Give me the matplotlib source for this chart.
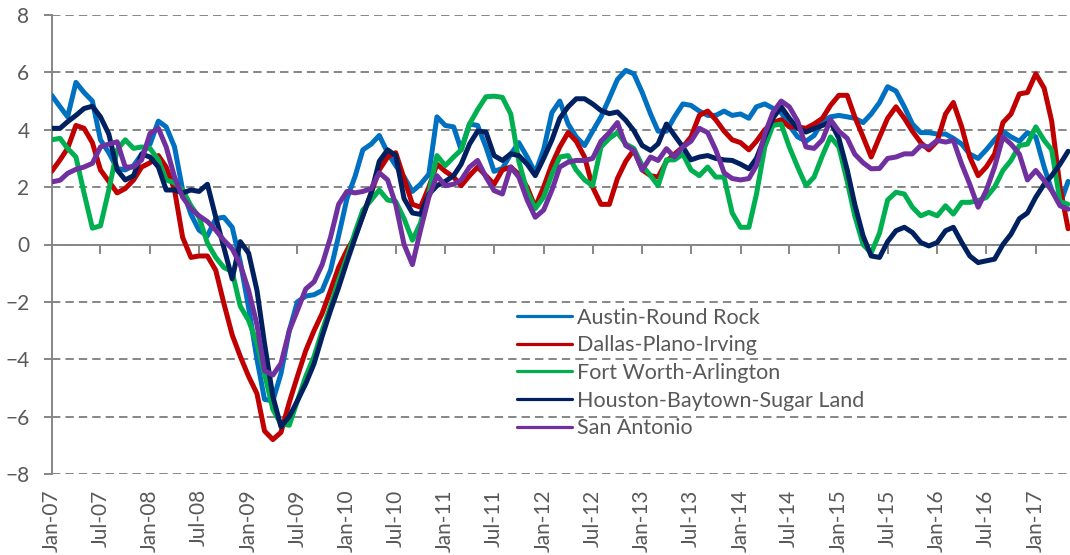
import numpy as np
import pandas as pd
import matplotlib
matplotlib.use("Agg")
from matplotlib import pyplot as plt
import matplotlib.dates as mdates

plt.rcParams['font.family'] = ['Lato', 'DejaVu Sans']

months = pd.date_range('2007-01-01', periods=125, freq='MS')

austin = [5.2, 4.8, 4.45, 5.65, 5.3, 5.0, 3.65, 3.2, 2.65, 2.6,
          2.75, 3.15, 3.5, 4.3, 4.1, 3.4, 1.9, 1.05, 0.5, 0.3,
          0.9, 0.95, 0.6, -0.6, -2.2, -4.0, -5.4, -5.45, -4.5, -3.0,
          -2.0, -1.8, -1.75, -1.6, -0.9, 0.3, 1.6, 2.4, 3.3, 3.5,
          3.8, 3.2, 2.75, 2.35, 1.85, 2.1, 2.45, 4.45, 4.15, 4.1,
          3.3, 4.2, 4.15, 3.4, 2.55, 2.65, 3.15, 3.55, 3.05, 2.5,
          3.3, 4.6, 5.0, 4.2, 3.75, 3.45, 3.95, 4.45, 5.1, 5.75,
          6.07, 5.95, 5.3, 4.55, 3.95, 3.95, 4.45, 4.9, 4.85, 4.65,
          4.5, 4.5, 4.65, 4.5, 4.55, 4.4, 4.8, 4.9, 4.75, 4.6,
          4.15, 3.75, 3.6, 3.8, 4.3, 4.45, 4.5, 4.45, 4.4, 4.25,
          4.55, 4.95, 5.5, 5.35, 4.8, 4.2, 3.9, 3.9, 3.85, 3.85,
          3.7, 3.5, 3.15, 3.0, 3.3, 3.65, 3.95, 3.75, 3.6, 3.9,
          3.75, 2.7, 1.9, 1.4, 2.2]

dallas = [2.55, 2.95, 3.35, 4.15, 4.05, 3.55, 2.6, 2.2, 1.8, 1.95,
          2.25, 2.7, 2.85, 3.1, 2.7, 1.9, 0.25, -0.45, -0.4, -0.4,
          -0.9, -2.05, -3.15, -3.9, -4.6, -5.2, -6.5, -6.8, -6.55, -5.5,
          -4.6, -3.7, -3.0, -2.4, -1.6, -0.8, -0.2, 0.3, 1.0, 1.8,
          2.6, 3.05, 3.2, 2.3, 1.4, 1.3, 2.0, 2.8, 2.55, 2.35,
          2.05, 2.4, 2.7, 2.4, 2.1, 2.6, 2.7, 2.45, 2.0, 1.3,
          2.0, 2.8, 3.4, 3.9, 3.6, 3.05, 2.0, 1.4, 1.4, 2.3,
          2.9, 3.3, 2.6, 2.4, 2.35, 2.9, 3.15, 3.4, 3.75, 4.5,
          4.65, 4.35, 3.95, 3.65, 3.55, 3.3, 3.6, 4.0, 4.25, 4.35,
          4.1, 4.1, 4.05, 4.2, 4.4, 4.85, 5.2, 5.2, 4.45, 3.75,
          3.05, 3.75, 4.4, 4.8, 4.4, 3.95, 3.55, 3.3, 3.6, 4.55,
          4.95, 4.1, 3.05, 2.4, 2.7, 3.15, 4.25, 4.55, 5.25, 5.3,
          5.95, 5.45, 4.3, 2.0, 0.55]

fort_worth = [3.65, 3.7, 3.35, 3.05, 1.8, 0.57, 0.65, 1.9, 3.3, 3.65,
              3.35, 3.4, 3.35, 2.95, 2.25, 2.15, 1.9, 1.35, 0.95, 0.05,
              -0.45, -0.8, -0.95, -2.15, -2.65, -3.45, -4.5, -5.75, -6.25, -6.3,
              -5.45, -4.6, -3.9, -3.0, -2.15, -1.25, -0.45, 0.45, 1.2, 1.55,
              1.9, 1.55, 1.5, 0.9, 0.15, 0.75, 1.8, 3.1, 2.75, 3.05,
              3.3, 4.2, 4.7, 5.15, 5.17, 5.13, 4.55, 2.9, 1.85, 1.25,
              1.65, 2.45, 3.05, 3.1, 2.6, 2.25, 2.05, 3.4, 3.7, 3.9,
              3.5, 3.35, 2.75, 2.4, 2.05, 2.95, 2.95, 3.15, 2.6, 2.4,
              2.7, 2.35, 2.35, 1.1, 0.6, 0.6, 1.75, 3.4, 4.15, 4.2,
              3.4, 2.7, 2.05, 2.35, 3.1, 3.75, 3.4, 2.2, 1.0, 0.0,
              -0.3, 0.4, 1.55, 1.82, 1.76, 1.3, 1.0, 1.12, 1.0, 1.35,
              1.06, 1.47, 1.47, 1.53, 1.64, 2.0, 2.58, 2.93, 3.45, 3.5,
              4.1, 3.63, 3.3, 1.5, 1.4]

houston = [4.05, 4.05, 4.28, 4.5, 4.74, 4.82, 4.45, 3.85, 2.6, 2.25,
           2.4, 3.15, 3.05, 2.7, 1.9, 1.9, 1.8, 1.9, 1.85, 2.1,
           0.95, -0.1, -1.2, 0.1, -0.3, -1.6, -3.45, -5.3, -6.35, -6.0,
           -5.45, -4.85, -4.15, -3.2, -2.3, -1.5, -0.6, 0.25, 1.0, 1.8,
           2.9, 3.3, 3.1, 1.6, 1.1, 1.05, 1.75, 2.05, 2.2, 2.4,
           2.8, 3.5, 3.95, 3.92, 3.1, 2.93, 3.16, 3.1, 2.8, 2.4,
           3.0, 3.65, 4.4, 4.8, 5.08, 5.08, 4.9, 4.67, 4.56, 4.62,
           4.33, 3.97, 3.45, 3.28, 3.51, 4.2, 3.8, 3.4, 2.95, 3.05,
           3.1, 3.0, 2.95, 2.93, 2.8, 2.64, 3.0, 3.75, 4.4, 4.8,
           4.4, 4.05, 3.92, 4.04, 4.15, 4.27, 3.7, 2.6, 1.4, 0.3,
           -0.4, -0.45, 0.1, 0.48, 0.6, 0.42, 0.07, -0.05, 0.07, 0.48,
           0.6, 0.07, -0.4, -0.63, -0.57, -0.51, 0.0, 0.36, 0.9, 1.1,
           1.65, 2.1, 2.4, 2.8, 3.25]

san_antonio = [2.18, 2.24, 2.48, 2.62, 2.7, 2.83, 3.4, 3.5, 3.58, 2.7,
               2.7, 2.95, 3.87, 4.05, 3.4, 2.35, 1.65, 1.25, 1.0, 0.8,
               0.5, 0.15, -0.15, -0.7, -1.6, -2.8, -4.4, -4.55, -4.15, -3.0,
               -2.3, -1.55, -1.3, -0.7, 0.25, 1.4, 1.85, 1.8, 1.85, 1.95,
               2.5, 2.25, 1.4, 0.0, -0.7, 0.5, 1.65, 2.4, 2.05, 2.1,
               2.25, 2.7, 2.93, 2.35, 1.88, 1.76, 2.7, 2.35, 1.55, 0.95,
               1.2, 1.9, 2.7, 2.87, 2.93, 2.93, 3.0, 3.6, 3.9, 4.25,
               3.45, 3.28, 2.6, 3.05, 2.93, 3.34, 3.05, 3.4, 3.6, 4.05,
               3.9, 3.3, 2.5, 2.3, 2.25, 2.3, 2.75, 3.85, 4.6, 5.0,
               4.8, 4.3, 3.4, 3.35, 3.65, 4.35, 3.95, 3.7, 3.15, 2.85,
               2.64, 2.65, 3.0, 3.05, 3.16, 3.16, 3.45, 3.4, 3.63, 3.57,
               3.63, 2.8, 2.1, 1.3, 1.88, 2.7, 3.75, 3.5, 3.15, 2.25,
               2.58, 2.23, 1.88, 1.35, 1.23]

names = ['Austin-Round Rock', 'Dallas-Plano-Irving', 'Fort Worth-Arlington',
         'Houston-Baytown-Sugar Land', 'San Antonio']
series = [austin, dallas, fort_worth, houston, san_antonio]
colors = ['#0070C0', '#C00000', '#00B050', '#002060', '#7030A0']

gray = '#868686'
txt = '#595959'

fig = plt.figure(figsize=(10.70, 5.55), dpi=100)
ax = fig.add_axes([51.7 / 1070, 81 / 555, 1 - 51.7 / 1070, 459 / 555])

for vals, name, c in zip(series, names, colors):
    ax.plot(months, vals, color=c, lw=3.6, label=name,
            solid_joinstyle='round', solid_capstyle='round', zorder=3)

ax.set_ylim(-8, 8)
ax.set_yticks(range(-8, 9, 2))
ax.set_xlim(months[0], months[0] + pd.Timedelta(days=int(124.18 * 30.44)))

ax.yaxis.grid(True, color=gray, lw=1.4, dashes=(4.3, 2.6))
ax.set_axisbelow(True)

for s in ['top', 'right']:
    ax.spines[s].set_visible(False)
ax.spines['bottom'].set_position(('data', 0))
for s in ['left', 'bottom']:
    ax.spines[s].set_color(gray)
    ax.spines[s].set_linewidth(1.4)
    ax.spines[s].set_zorder(2)

ticks = pd.date_range('2007-01-01', '2017-01-01', freq='6MS')
ax.set_xticks(ticks)
ax.tick_params(axis='x', direction='out', length=6.5, width=1.4, color=gray,
               labelbottom=False)
ax.tick_params(axis='y', direction='out', length=6, width=1.4, color=gray,
               labelsize=15, labelcolor=txt, pad=10)

sec = ax.secondary_xaxis('bottom')
sec.set_xticks(ticks)
sec.set_xticklabels([t.strftime('%b-%y') for t in ticks], rotation=90)
sec.tick_params(length=0, pad=11, labelsize=15, labelcolor=txt)
sec.spines['bottom'].set_visible(False)

leg = ax.legend(loc='upper left', bbox_to_anchor=(516.7 / 1070, 1 - 307.5 / 555),
                bbox_transform=fig.transFigure, frameon=False, fontsize=15.5,
                handlelength=2.55, handletextpad=0.25, labelspacing=0.36,
                borderpad=0, borderaxespad=0)
for h in leg.legend_handles:
    h.set_linewidth(2.3)
for t in leg.get_texts():
    t.set_color(txt)

fig.savefig('out.png', dpi=100)
